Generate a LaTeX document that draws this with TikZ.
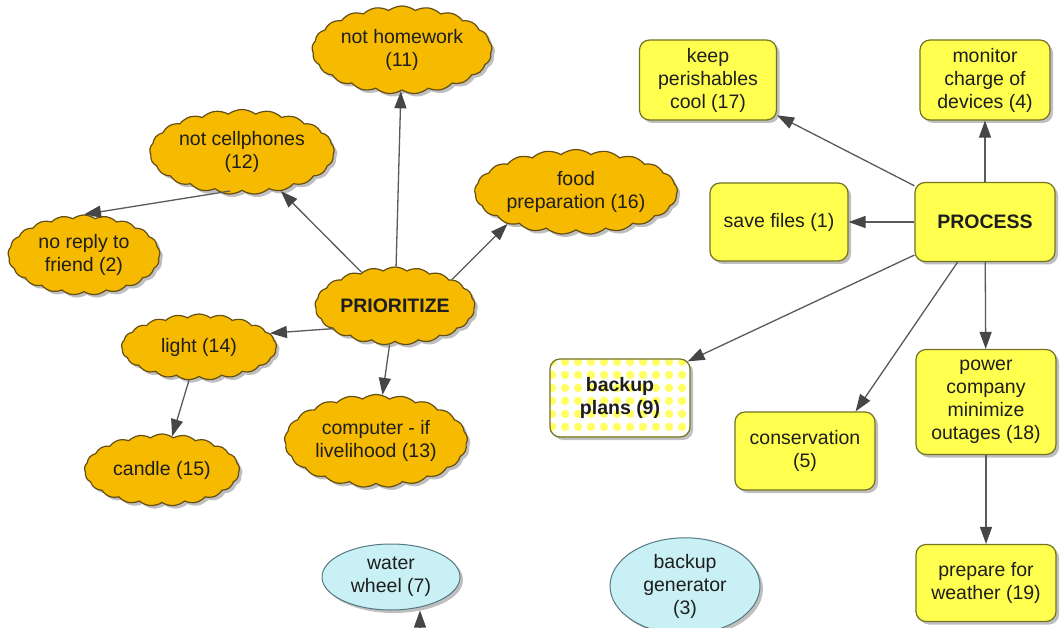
\documentclass[tikz,border=0pt]{standalone}
\usepackage{fontspec}
\setmainfont{Liberation Sans}
\usetikzlibrary{shapes.symbols,shapes.geometric,arrows.meta,shadows,patterns.meta,calc}

\definecolor{cloudfill}{RGB}{246,186,0}
\definecolor{cloudline}{RGB}{100,78,20}
\definecolor{boxfill}{RGB}{255,255,80}
\definecolor{boxline}{RGB}{115,115,35}
\definecolor{ovalfill}{RGB}{200,240,245}
\definecolor{ovalline}{RGB}{85,120,130}
\definecolor{linkgray}{RGB}{90,90,90}
\definecolor{headgray}{RGB}{70,70,70}
\definecolor{dotyellow}{RGB}{255,255,100}
\definecolor{txt}{RGB}{30,30,30}

% dotted fill of the "backup plans" box
\tikzdeclarepattern{
  name=yellowdots,
  type=colored,
  bounding box={(0pt,0pt) and (13pt,13pt)},
  tile size={(13pt,13pt)},
  code={\fill[dotyellow] (6.5pt,6.5pt) circle (4.5pt);}
}

\tikzset{
  softshadow/.style={drop shadow={shadow xshift=3pt, shadow yshift=-3pt, opacity=0.25, fill=black}},
  label/.style={align=center, text=txt, font=\fontsize{19.5}{23}\selectfont, inner sep=2pt},
  cloudbox/.style={label, cloud, cloud puffs=21, cloud puff arc=75, cloud ignores aspect,
    fill=cloudfill, draw=cloudline, line width=1.2pt, softshadow},
  rbox/.style={label, rectangle, rounded corners=10pt, fill=boxfill, draw=boxline,
    line width=1.2pt, softshadow},
  oval/.style={label, ellipse, fill=ovalfill, draw=ovalline, line width=1pt, softshadow},
  link/.style={draw=linkgray, line width=1.3pt,
    -{Triangle[length=17pt,width=12pt,color=headgray,fill=headgray]}},
}

\begin{document}
\begin{tikzpicture}[x=1pt,y=-1pt]
\useasboundingbox (0,0) rectangle (1063,628);
\clip (0,0) rectangle (1063,628);
\fill[white] (0,0) rectangle (1063,628);

% ---- PRIORITIZE cluster ----
\node[cloudbox, minimum width=178pt, minimum height=88pt] (home) at (402,50) {not homework\\(11)};
\node[cloudbox, minimum width=182pt, minimum height=85pt] (cell) at (242,152) {not cellphones\\(12)};
\node[cloudbox, minimum width=152pt, minimum height=80pt] (noreply) at (84,255) {no reply to\\friend (2)};
\node[cloudbox, minimum width=195pt, minimum height=85pt] (food) at (576,192) {food\\preparation (16)};
\node[cloudbox, minimum width=160pt, minimum height=78pt, font=\fontsize{19.5}{23}\selectfont\bfseries] (prio) at (395,306) {PRIORITIZE};
\node[cloudbox, minimum width=155pt, minimum height=66pt] (light) at (199,347) {light (14)};
\node[cloudbox, minimum width=183pt, minimum height=93pt] (comp) at (376,441) {computer - if\\livelihood (13)};
\node[cloudbox, minimum width=155pt, minimum height=72pt] (candle) at (162,470) {candle (15)};

% ---- PROCESS cluster ----
\node[rbox, minimum width=137pt, minimum height=80pt] (keep) at (708,80) {keep\\perishables\\cool (17)};
\node[rbox, minimum width=130pt, minimum height=80pt] (monitor) at (985,80) {monitor\\charge of\\devices (4)};
\node[rbox, minimum width=138pt, minimum height=78pt] (save) at (779,222) {save files (1)};
\node[rbox, minimum width=140pt, minimum height=79pt, font=\fontsize{19.5}{23}\selectfont\bfseries] (process) at (985,222) {PROCESS};
\node[rbox, minimum width=140pt, minimum height=78pt, fill=none, preaction={fill=white}, pattern=yellowdots,
  font=\fontsize{19.5}{23}\selectfont\bfseries] (bplans) at (620,398) {backup\\plans (9)};
\node[rbox, minimum width=140pt, minimum height=78pt] (conserv) at (805,451) {conservation\\(5)};
\node[rbox, minimum width=140pt, minimum height=105pt] (power) at (986,402) {power\\company\\minimize\\outages (18)};
\node[rbox, minimum width=140pt, minimum height=77pt] (prepare) at (986,583) {prepare for\\weather (19)};

% ---- sources ----
\node[oval, minimum width=138pt, minimum height=66pt] (ww) at (391,577) {water\\wheel (7)};
\node[oval, minimum width=150pt, minimum height=76pt] (gen) at (685,586) {backup\\generator\\(3)};
\coordinate (wwfeed) at (420,700);

% ---- connectors ----
\draw[link] (prio) -- (home);
\draw[link] (prio) -- (cell);
\draw[link] ($(cell.south)+(-12,0)$) -- (noreply.north);
\draw[link] (prio.25) -- (food.205);
\draw[link] (prio.200) -- (light.11);
\draw[link] (prio) -- (comp);
\draw[link] (light) -- (candle);

\draw[link] (process) -- (keep);
\draw[link] (process) -- (monitor);
\draw[link] (process.west) -- (save.east);
\draw[link] (process) -- ($(bplans.north east)+(-3,3)$);
\draw[link] (process) -- ($(conserv.north east)+(-20,0)$);
\draw[link] (process) -- (power);
\draw[link] (power) -- (prepare);

\draw[link] (wwfeed) -- (wwfeed |- ww.south);
\end{tikzpicture}
\end{document}
